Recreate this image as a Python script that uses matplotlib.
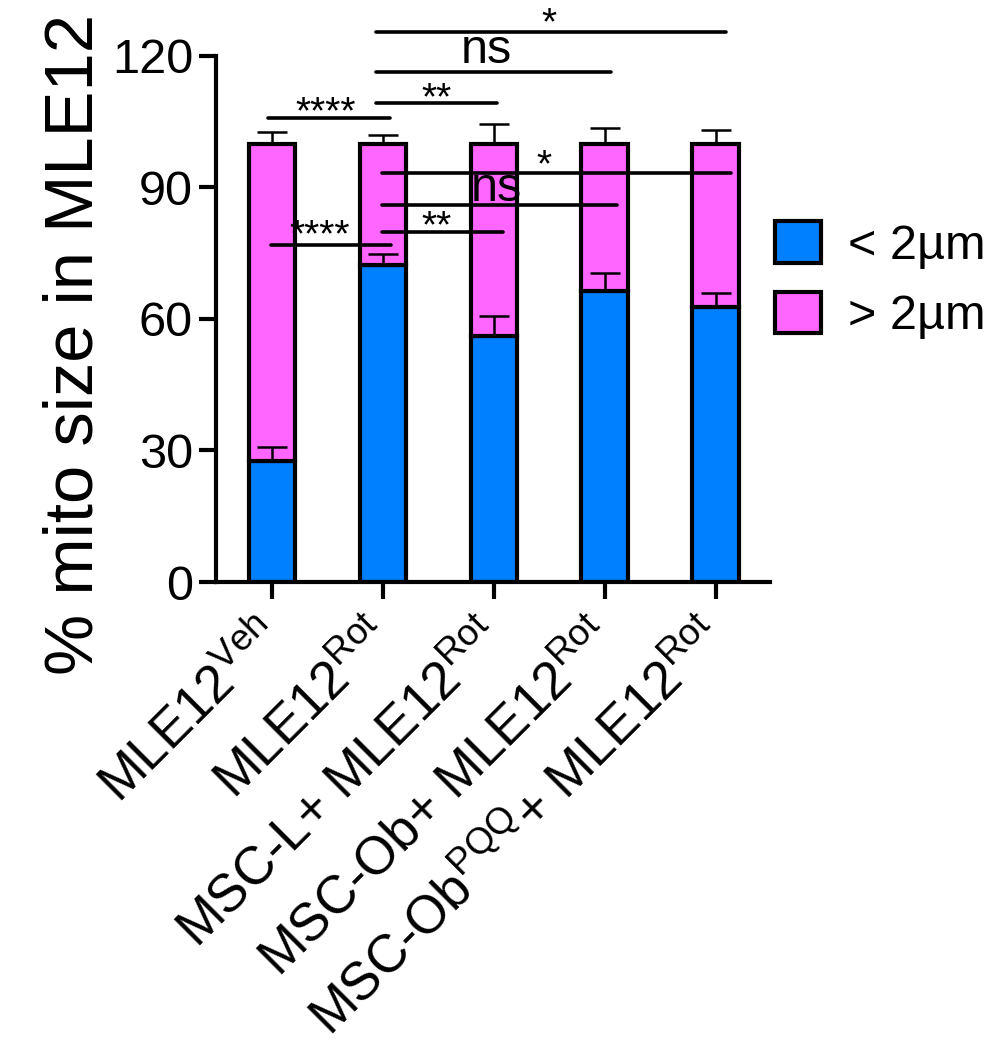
import matplotlib
matplotlib.use("Agg")
import matplotlib.pyplot as plt
from matplotlib.patches import Patch
from matplotlib.transforms import ScaledTranslation
import numpy as np

plt.rcParams['font.family'] = ['Liberation Sans', 'DejaVu Sans']
plt.rcParams['mathtext.fontset'] = 'custom'
plt.rcParams['mathtext.rm'] = 'Liberation Sans'
plt.rcParams['mathtext.it'] = 'Liberation Sans:italic'

# ---- data ----
groups = [r'MLE12$^{\mathregular{Veh}}$',
          r'MLE12$^{\mathregular{Rot}}$',
          r'MSC-L+ MLE12$^{\mathregular{Rot}}$',
          r'MSC-Ob+ MLE12$^{\mathregular{Rot}}$',
          r'MSC-Ob$^{\mathregular{PQQ}}$+ MLE12$^{\mathregular{Rot}}$']
small_pct = [27.6, 72.3, 56.0, 66.4, 62.6]      # < 2 um
small_err = [3.1, 2.5, 4.7, 4.0, 3.4]
large_pct = [72.4, 27.7, 44.0, 33.6, 37.4]      # > 2 um
large_err = [2.6, 2.0, 4.4, 3.5, 3.0]
series_labels = ['< 2µm', '> 2µm']
yticks = [0, 30, 60, 90, 120]

# significance annotations: (x_start, x_end, line_y, label, label_x, label_baseline)
upper_sig = [(-0.035, 1.064, 105.9, '****', 0.486, 104.6),
             (0.936, 2.03, 109.3, '**', 1.48, 107.8),
             (0.936, 3.06, 116.2, 'ns', 1.93, 118.3),
             (0.936, 4.09, 125.5, '*', 2.50, 124.8)]
inner_sig = [(-0.01, 1.07, 76.9, '****', 0.43, 76.6),
             (0.994, 2.08, 79.9, '**', 1.48, 78.5),
             (0.994, 3.11, 86.0, 'ns', 2.02, 87.0),
             (0.994, 4.14, 93.2, '*', 2.45, 92.5)]

blue = '#0080FF'
pink = '#FF66FF'

fig = plt.figure(figsize=(10.04, 10.44), dpi=100)
ax = fig.add_axes([216/1004, 1-582/1044, (770-216)/1004, (582-55.8)/1044])

x = np.arange(len(groups))
w = 0.42
ax.bar(x, small_pct, width=w, color=blue, edgecolor='black', linewidth=3, zorder=2)
ax.bar(x, large_pct, width=w, bottom=small_pct, color=pink, edgecolor='black', linewidth=3, zorder=2)
tops_small = np.array(small_pct)
tops_large = np.array(small_pct) + np.array(large_pct)
ax.errorbar(x, tops_small, yerr=[np.zeros(len(x)), small_err], fmt='none', ecolor='black',
            elinewidth=1.8, capsize=10.5, capthick=1.8, zorder=3)
ax.errorbar(x, tops_large, yerr=[np.zeros(len(x)), large_err], fmt='none', ecolor='black',
            elinewidth=1.8, capsize=10.5, capthick=1.8, zorder=3)

for sig in upper_sig + inner_sig:
    x0, x1, yl, lab, lx, lb = sig
    ax.plot([x0, x1], [yl, yl], color='black', lw=2.6, solid_capstyle='round',
            clip_on=False, zorder=4)
    fs = 35 if lab == 'ns' else 28
    ax.text(lx, lb, lab, ha='center', va='baseline', fontsize=fs, clip_on=False, zorder=5)

ax.set_xlim(-0.505, 4.49)
ax.set_ylim(0, 120)
for s in ['top', 'right']:
    ax.spines[s].set_visible(False)
for s in ['left', 'bottom']:
    ax.spines[s].set_linewidth(3)
ax.tick_params(axis='both', width=3, length=12.5, color='black')
ax.tick_params(axis='y', pad=4)
ax.tick_params(axis='x', pad=29.5)
ax.set_yticks(yticks)
ax.set_yticklabels([str(t) for t in yticks], fontsize=35)
ax.set_xticks(x)
ax.set_xticklabels(groups, fontsize=38, rotation=45, ha='right', va='baseline',
                   rotation_mode='anchor')
offset = ScaledTranslation(12/100, 0, fig.dpi_scale_trans)
for lab in ax.get_xticklabels():
    lab.set_transform(lab.get_transform() + offset)

ax.set_ylabel('% mito size in MLE12', fontsize=49.5)
ax.yaxis.set_label_coords(-0.197, 0.452)

handles = [Patch(facecolor=blue, edgecolor='black', linewidth=3),
           Patch(facecolor=pink, edgecolor='black', linewidth=3)]
fig.legend(handles, series_labels, loc='upper left', bbox_to_anchor=(775/1004, 1-221/1044),
           frameon=False, fontsize=35, handlelength=0.95, handleheight=0.95,
           handletextpad=0.55, labelspacing=0.47, borderpad=0, borderaxespad=0)

fig.savefig('out.png', dpi=100)
